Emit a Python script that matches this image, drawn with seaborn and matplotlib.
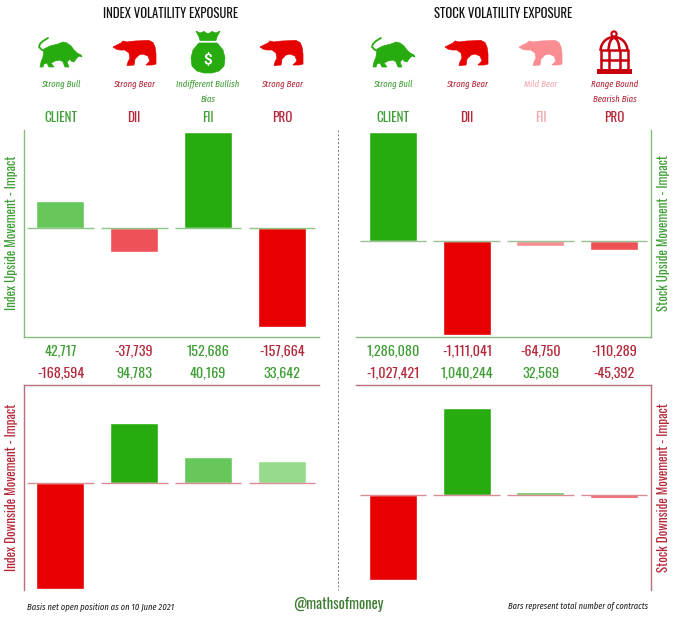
import numpy as np
import pandas as pd
import matplotlib
matplotlib.use("Agg")
import matplotlib.pyplot as plt
import seaborn as sns
from matplotlib.patches import Polygon, Arc, Circle, Rectangle

# --- chart data
categories = ["CLIENT", "DII", "FII", "PRO"]
indexUp = [42717, -37739, 152686, -157664]
indexDown = [-168594, 94783, 40169, 33642]
stockUp = [1286080, -1111041, -64750, -110289]
stockDown = [-1027421, 1040244, 32569, -45392]
indexViews = ["Strong Bull", "Strong Bear", "Indifferent Bullish\nBias", "Strong Bear"]
stockViews = ["Strong Bull", "Strong Bear", "Mild Bear", "Range Bound\nBearish Bias"]

GREEN = "#27AB0F"
GREEN2 = "#68C75B"
GREEN3 = "#96DB8C"
RED = "#E60000"
RED2 = "#EE5158"
RED3 = "#F58E92"
TXT_GREEN = "#3F9E35"
TXT_RED = "#B5283A"
TXT_PALE = "#F2A6AE"
LINE_GREEN = "#86BC7C"
LINE_RED = "#B5707A"

indexUpColors = [GREEN2, RED2, GREEN, RED]
indexDownColors = [RED, GREEN, GREEN2, GREEN3]
stockUpColors = [GREEN, RED, RED3, RED2]
stockDownColors = [RED, GREEN, GREEN2, RED2]

# --- Oswald look, falls back to what is surely installed
NARROW = ["Oswald", "Liberation Sans Narrow", "Roboto", "DejaVu Sans"]
ITALIC = ["Fira Sans Extra Condensed", "Barlow Condensed", "Liberation Sans Narrow", "Roboto", "DejaVu Sans"]
W, H = 680, 620

BEAR = [(0, 7), (4, 5), (8, 3), (10, 1), (14, 2), (22, 1), (36, 0.5), (40, 2.5), (42, 7), (43, 14), (43, 24), (39, 25),
        (33, 25), (35, 23), (37, 21), (35, 16), (30, 14), (26, 15), (22, 19), (21, 25), (14, 25.5), (15, 22), (17, 18),
        (16, 13), (12, 10), (7, 10), (3, 9)]
BULL = [(6, 12), (12, 9), (20, 7), (25, 5), (29, 6), (33, 9), (36, 13), (39, 16), (43, 18), (44, 20), (41, 19), (38, 22),
        (36, 25), (33, 24), (32, 22), (29, 25), (31, 30), (27, 30), (25, 25), (22, 23), (17, 24), (13, 26), (16, 30),
        (11, 30), (9, 26), (6, 27), (5, 30), (2, 30), (3, 25), (5, 20)]
TAIL = [(10, 1), (5, 4), (2, 7), (1, 10), (4, 13), (8, 14)]
BAG = [(-9, 43), (-10, 44), (-15, 50), (-17, 58), (-16, 66), (-11, 71), (-4, 73), (4, 73), (11, 71), (16, 66), (17, 58),
       (15, 50), (10, 44), (9, 43)]
TUFT = [(-12, 31), (-8, 33), (-4, 31.5), (0, 34), (4, 31.5), (8, 33), (12, 31), (9, 37), (8, 40.5), (-8, 40.5), (-9, 37)]


def axBox(left, top, right, bottom):
    return [left / W, 1 - bottom / H, (right - left) / W, (bottom - top) / H]


def drawPanel(box, values, colors, zeroPx, pxPerUnit, lineColor, zeroColor, spines):
    ax = fig.add_axes(axBox(*box))
    df = pd.DataFrame({"cat": categories, "val": values})
    sns.barplot(ax=ax, data=df, x="cat", y="val", hue="cat", palette=colors, legend=False, width=0.65, saturation=1)
    ax.set_xlim(-0.5, 3.5)
    ax.set_ylim(-(box[3] - zeroPx) / pxPerUnit, (zeroPx - box[1]) / pxPerUnit)
    ax.hlines(np.zeros(4), np.arange(4) - 0.45, np.arange(4) + 0.45, color=zeroColor, lw=1, zorder=5)
    ax.set_xticks([])
    ax.set_yticks([])
    ax.set_xlabel("")
    ax.set_ylabel("")
    for name, spine in ax.spines.items():
        spine.set_visible(name in spines)
        spine.set_color(lineColor)
        spine.set_linewidth(1)
    return ax


def drawBear(ov, x, y, color):
    ov.add_patch(Polygon([(x + a, y + b) for a, b in BEAR], closed=True, fc=color, ec=color, lw=0.5, joinstyle="round"))


def drawBull(ov, x, y, color):
    ov.add_patch(Polygon([(x + a, y + b) for a, b in BULL], closed=True, fc=color, ec=color, lw=0.5, joinstyle="round"))
    ov.plot([x + a for a, b in TAIL], [y + b for a, b in TAIL], color=color, lw=1.3)


def drawBag(ov, cx, color):
    ov.add_patch(Polygon([(cx + a, b) for a, b in BAG], closed=True, fc=color, ec=color, lw=0.5, joinstyle="round"))
    ov.add_patch(Polygon([(cx + a, b) for a, b in TUFT], closed=True, fc=color, ec=color, lw=0.5, joinstyle="round"))
    ov.text(cx, 60, "$", color="white", fontsize=11, fontweight="bold", ha="center", va="center", family="Roboto")


def drawCage(ov, cx, color):
    lw = 1.8
    ov.add_patch(Circle((cx, 34), 2.6, fc="none", ec=color, lw=1.5))
    ov.add_patch(Arc((cx, 51), 27, 28, theta1=180, theta2=360, ec=color, lw=lw))
    ov.add_patch(Arc((cx, 51), 11, 26, theta1=180, theta2=360, ec=color, lw=lw))
    for dx in [-13.5, -5.5, 5.5, 13.5]:
        ov.plot([cx + dx, cx + dx], [51, 69], color=color, lw=lw)
    for yy in [50, 60]:
        ov.plot([cx - 13.5, cx + 13.5], [yy, yy], color=color, lw=lw)
    ov.add_patch(Rectangle((cx - 17.5, 69), 35, 5, fc=color, ec=color, lw=0))


sns.set_theme(style="white")
plt.rcParams["font.family"] = NARROW
fig = plt.figure(figsize=(W / 100, H / 100), dpi=100, facecolor="white")

drawPanel((23.5, 130, 319, 337), indexUp, indexUpColors, 228, 96 / 152686, LINE_GREEN, "#8CC585", ["left", "bottom"])
drawPanel((23.5, 385, 319, 590), indexDown, indexDownColors, 482.5, 106 / 168594, LINE_RED, "#D98C96", ["left", "top"])
drawPanel((356, 130, 651, 337), stockUp, stockUpColors, 240.5, 109 / 1286080, LINE_GREEN, "#9CC096", ["right", "bottom"])
drawPanel((356, 385, 651, 590), stockDown, stockDownColors, 494.5, 87 / 1040244, LINE_RED, "#D98C96", ["right", "top"])

# --- overlay in pixel coordinates for texts and icons
ov = fig.add_axes([0, 0, 1, 1], facecolor="none")
ov.set_xlim(0, W)
ov.set_ylim(H, 0)
ov.axis("off")

ov.plot([337.5, 337.5], [130, 590], color="#777777", lw=0.7, ls=(0, (2, 2)))

ov.text(171, 14, "INDEX VOLATILITY EXPOSURE", fontsize=9.2, color="#111111", ha="center", va="center")
ov.text(503.5, 14, "STOCK VOLATILITY EXPOSURE", fontsize=9.2, color="#111111", ha="center", va="center")

leftX = [60.5, 134, 208, 282]
rightX = [393, 467, 541, 614.5]
indexCatColors = [TXT_GREEN, TXT_RED, TXT_GREEN, TXT_RED]
stockCatColors = [TXT_GREEN, TXT_RED, TXT_PALE, TXT_RED]
for i, cat in enumerate(categories):
    for xs, views, colors in [(leftX, indexViews, indexCatColors), (rightX, stockViews, stockCatColors)]:
        ov.text(xs[i], 117, cat, fontsize=9.5, color=colors[i], ha="center", va="center")
        for j, line in enumerate(views[i].split("\n")):
            ov.text(xs[i], 84 + j * 15, line, fontsize=6.8, style="italic", family=ITALIC, color=colors[i], ha="center", va="center")
    for xs, vals, yy in [(leftX, indexUp, 351), (leftX, indexDown, 373), (rightX, stockUp, 351), (rightX, stockDown, 373)]:
        ov.text(xs[i], yy, "{:,}".format(vals[i]), fontsize=10.2, color=TXT_GREEN if vals[i] > 0 else TXT_RED,
                ha="center", va="center")

drawBull(ov, 38, 37, GREEN)
drawBear(ov, 113, 40, RED)
drawBag(ov, 208, GREEN)
drawBear(ov, 260, 40, RED)
drawBull(ov, 371, 37, GREEN)
drawBear(ov, 445, 40, RED)
drawBear(ov, 519, 40, "#F98D92")
drawCage(ov, 614, "#C8000E")

ov.text(12, 233, "Index Upside Movement - Impact", fontsize=9.4, color=TXT_GREEN, rotation=90, ha="center", va="center")
ov.text(12, 487, "Index Downside Movement - Impact", fontsize=9.4, color=TXT_RED, rotation=90, ha="center", va="center")
ov.text(664, 233, "Stock Upside Movement - Impact", fontsize=9.4, color=TXT_GREEN, rotation=90, ha="center", va="center")
ov.text(664, 488, "Stock Downside Movement - Impact", fontsize=9.4, color=TXT_RED, rotation=90, ha="center", va="center")

ov.text(27, 606, "Basis net open position as on 10 June 2021", fontsize=6.7, style="italic", family=ITALIC, color="#222222", ha="left", va="center")
ov.text(648, 606, "Bars represent total number of contracts", fontsize=6.6, style="italic", family=ITALIC, color="#222222", ha="right", va="center")
ov.text(338, 604, "@mathsofmoney", fontsize=10.5, fontweight="bold", color="#3E7A32", ha="center", va="center")

fig.savefig("out.png", dpi=100)
plt.close(fig)
